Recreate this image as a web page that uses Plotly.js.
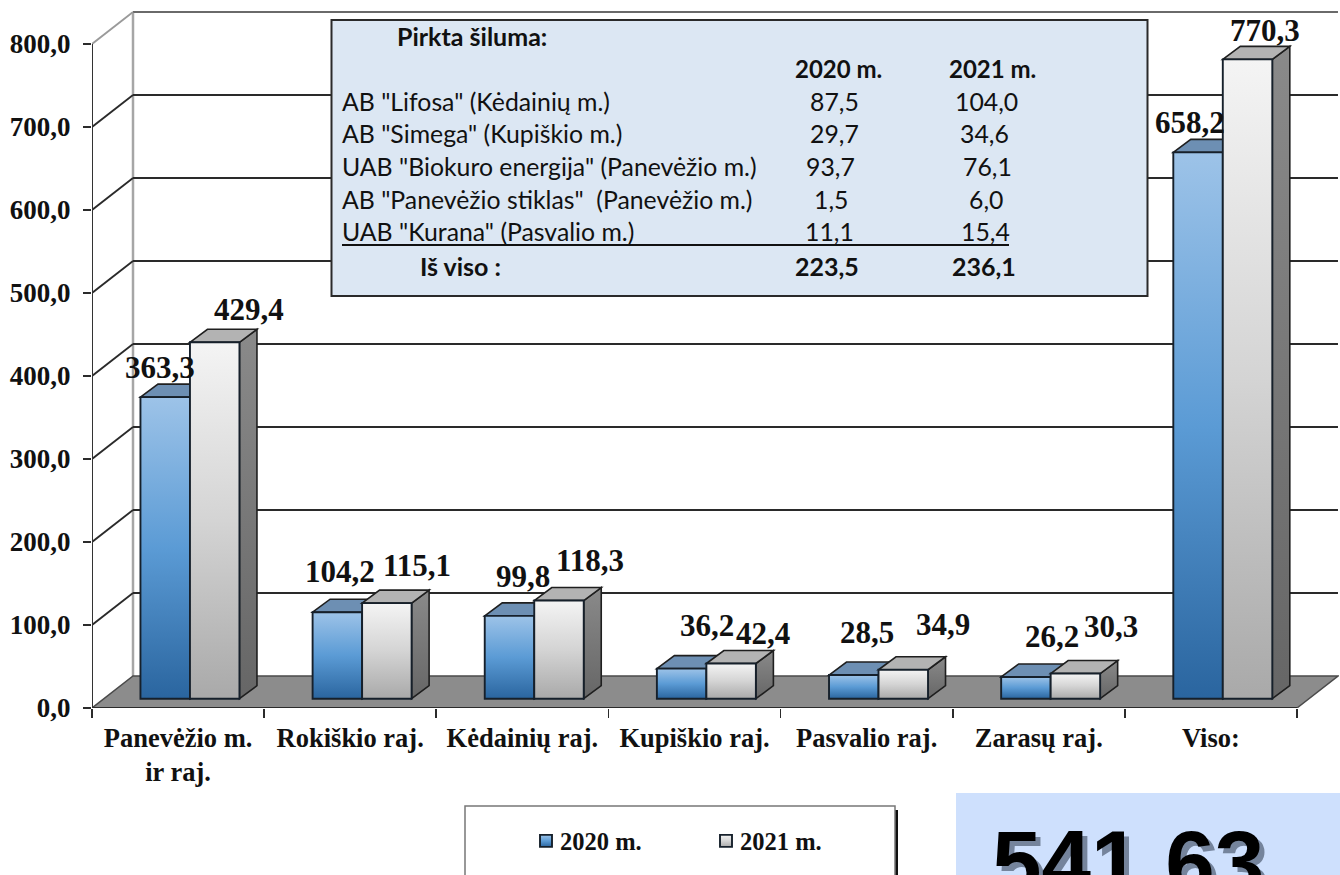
<!DOCTYPE html>
<html><head><meta charset="utf-8">
<script src="https://cdn.plot.ly/plotly-3.0.1.min.js"></script>
<style>html,body{margin:0;padding:0;background:#fff;overflow:hidden}#chart{width:1340px;height:875px}</style>
</head><body><div id="chart"></div>
<script>
const categories = ['Panevėžio m.<br>ir raj.', 'Rokiškio raj.', 'Kėdainių raj.', 'Kupiškio raj.', 'Pasvalio raj.', 'Zarasų raj.', 'Viso:'];
const values2020 = [363.3, 104.2, 99.8, 36.2, 28.5, 26.2, 658.2];
const values2021 = [429.4, 115.1, 118.3, 42.4, 34.9, 30.3, 770.3];
const yTicks = [0, 100, 200, 300, 400, 500, 600, 700, 800];
const seriesNames = ['2020 m.', '2021 m.'];
const tableTitle = 'Pirkta šiluma:';
const tableSources = ['AB "Lifosa" (Kėdainių m.)', 'AB "Simega" (Kupiškio m.)', 'UAB "Biokuro energija" (Panevėžio m.)', 'AB "Panevėžio stiklas"  (Panevėžio m.)', 'UAB "Kurana" (Pasvalio m.)'];
const table2020 = [87.5, 29.7, 93.7, 1.5, 11.1];
const table2021 = [104.0, 34.6, 76.1, 6.0, 15.4];
const tableTotalLabel = 'Iš viso :';
const tableTotal2020 = 223.5;
const tableTotal2021 = 236.1;
const cornerValue = '541,63';

// layout constants (pixels)
const W = 1340, H = 875, L = 92, R = 1, BASEY = 708, PXY = 0.83, PXX = 172.14;
const fmt = v => v.toFixed(1).replace('.', ',');
const wallDX = 41 / PXX, wallDY = 32 / PXY;
const barDX = 17.5 / PXX, barDY = 13 / PXY;
const barBase = 11.2, barW = 49.5 / PXX;
const off1 = 0.2815 - 0.5, off2 = off1 + barW;
const n = categories.length;
const centers = categories.map((_, i) => i + 0.5);
const px = x => (x - L) / (W - L - R);
const py = y => (BASEY - y) / BASEY;

const shapes = [];
const poly = (pts, fill, lineColor, lineW, name) => shapes.push({
  type: 'path', xref: 'x', yref: 'y', layer: 'below', name: name || '',
  path: 'M' + pts.map(p => p[0] + ',' + p[1]).join(' L') + ' Z',
  fillcolor: fill, line: {color: lineColor, width: lineW}
});
const seg = (x0, y0, x1, y1, color, width) => shapes.push({
  type: 'line', xref: 'x', yref: 'y', layer: 'below', x0, y0, x1, y1, line: {color, width}
});
// back wall and gridlines
seg(wallDX, wallDY, wallDX, 800 + wallDY, '#a6a6a6', 2.5);
yTicks.filter(t => t > 0).forEach(t => {
  const c = t === 800 ? '#6a6a6a' : '#2a2a2a';
  seg(wallDX, t + wallDY, n + wallDX, t + wallDY, c, 1.8);
  seg(0, t, wallDX, t + wallDY, t === 800 ? '#9a9a9a' : '#2a2a2a', 1.8);
});
// floor
poly([[0, 0], [n, 0], [n + wallDX, wallDY], [wallDX, wallDY]], '#8c8c8c', '#4a4a4a', 1.5);
seg(0, 0, n, 0, '#2b2b2b', 2.2);
seg(0, 0, 0, 800, '#333333', 2);

// 3D faces of bars (behind the front faces)
const faces = (vals, off, topFill, sideFill, tag) => vals.forEach((v, i) => {
  const x0 = i + 0.5 + off, x1 = x0 + barW, y = barBase + v;
  poly([[x1, barBase], [x1 + barDX, barBase + barDY], [x1 + barDX, y + barDY], [x1, y]], sideFill, '#1f1f1f', 1.6, 'side' + tag);
  poly([[x0, y], [x0 + barDX, y + barDY], [x1 + barDX, y + barDY], [x1, y]], topFill, '#1f1f1f', 1.6, 'top' + tag);
});
faces(values2020, off1, '#6d8fb3', '#5b7896', 'A');
faces(values2021, off2, '#b3b3b3', '#7a7a7a', 'B');

// table box + its underline, legend box, corner box
shapes.push({type: 'rect', xref: 'paper', yref: 'paper', layer: 'above', x0: px(331.5), x1: px(1147.5), y0: py(296), y1: py(20), fillcolor: '#dce7f3', line: {color: '#2a2a2a', width: 2}});
shapes.push({type: 'line', xref: 'paper', yref: 'paper', layer: 'above', x0: px(342), x1: px(1009), y0: py(245), y1: py(245), line: {color: '#111', width: 2}});
shapes.push({type: 'rect', xref: 'paper', yref: 'paper', layer: 'below', x0: px(467), x1: px(898), y0: py(880), y1: py(810), fillcolor: '#111', line: {width: 0}});
shapes.push({type: 'rect', xref: 'paper', yref: 'paper', layer: 'below', x0: px(465), x1: px(895), y0: py(880), y1: py(806), fillcolor: '#fff', line: {color: '#777', width: 1.5}});
shapes.push({type: 'rect', xref: 'paper', yref: 'paper', layer: 'below', x0: px(956), x1: px(1345), y0: py(880), y1: py(793), fillcolor: '#cee0fd', line: {width: 0}});

const ann = [];
const textFont = (size, bold) => ({family: 'Lato, Carlito, sans-serif', size, color: '#111', weight: bold ? 700 : 400});
const tx = (text, x, y, anchor, font) => ann.push({text, xref: 'paper', yref: 'paper', x: px(x), y: py(y), xanchor: anchor, yanchor: 'middle', showarrow: false, font});
tx(tableTitle, 395, 36, 'left', textFont(25, true));
tx('2020 m.', 838, 68, 'center', textFont(24, true));
tx('2021 m.', 992, 68, 'center', textFont(24, true));
const rowY = [101, 134, 167, 199, 232];
const col20 = [834, 834, 831, 831, 829], col21 = [986, 984, 987, 986, 985];
tableSources.forEach((s, i) => {
  tx(s, 340, rowY[i], 'left', textFont(24.8));
  tx(fmt(table2020[i]), col20[i], rowY[i], 'center', textFont(24.8));
  tx(fmt(table2021[i]), col21[i], rowY[i], 'center', textFont(24.8));
});
tx(tableTotalLabel, 418, 266, 'left', textFont(25, true));
tx(fmt(tableTotal2020), 827, 266, 'center', textFont(25, true));
tx(fmt(tableTotal2021), 984, 266, 'center', textFont(25, true));

// data labels: nudges in px from the bar's top centre
const serif = 'Liberation Serif, Times New Roman, serif';
const nudge20 = [[-5, 30], [3, 41], [14, 39], [25, 43], [13, 43], [26, 40], [-8, 30]];
const nudge21 = [[34, 33], [30, 38], [31, 40], [32, 30], [40, 45], [36, 47], [17, 29]];
const addLabels = (vals, off, nudge) => vals.forEach((v, i) => ann.push({
  text: fmt(v), xref: 'x', yref: 'y', x: i + 0.5 + off + barW / 2, y: barBase + v,
  xanchor: 'center', yanchor: 'middle', showarrow: false, xshift: nudge[i][0], yshift: nudge[i][1],
  font: {family: serif, size: 31, color: '#111', weight: 700}
}));
addLabels(values2020, off1, nudge20);
addLabels(values2021, off2, nudge21);
ann.push({text: cornerValue, xref: 'paper', yref: 'paper', x: px(990), y: py(894), xanchor: 'left', yanchor: 'bottom', yshift: -20, showarrow: false,
  font: {family: 'Liberation Sans, Arial, sans-serif', size: 89, weight: 700, color: '#000', shadow: '5px 5px 0 #75849c'}});

const barTrace = (name, vals, off, color) => ({
  type: 'bar', name, x: centers, y: vals, base: barBase, width: barW, offset: off,
  marker: {color, line: {color: '#16202b', width: 1.9}}, hoverinfo: 'skip', cliponaxis: false
});
const data = [
  barTrace(seriesNames[0], values2020, off1, '#5b9bd5'),
  barTrace(seriesNames[1], values2021, off2, '#dedede')
];
const layout = {
  width: W, height: H, margin: {l: L, r: R, t: 0, b: H - BASEY, pad: 0},
  paper_bgcolor: '#fff', plot_bgcolor: 'rgba(0,0,0,0)', barmode: 'overlay', showlegend: true,
  xaxis: {
    range: [0, (W - L - R) / PXX], tickmode: 'array', tickvals: centers, ticktext: categories, ticks: '',
    ticklabelstandoff: 11, showline: false, showgrid: false, zeroline: false, fixedrange: true,
    tickfont: {family: serif, size: 26.5, color: '#111', weight: 700},
    minor: {tickmode: 'array', tickvals: categories.map((_, i) => i).concat([n]), ticks: 'outside', ticklen: 9, tickwidth: 1.6, tickcolor: '#2b2b2b', showgrid: false}
  },
  yaxis: {
    range: [0, BASEY / PXY], tickmode: 'array', tickvals: yTicks, ticktext: yTicks.map(fmt), ticks: 'outside', ticklen: 8,
    tickwidth: 1.6, tickcolor: '#2b2b2b', ticklabelstandoff: 7, showline: false, showgrid: false, zeroline: false, fixedrange: true,
    tickfont: {family: serif, size: 27, color: '#111', weight: 700}
  },
  legend: {
    orientation: 'h', x: px(520), y: py(841), xanchor: 'left', yanchor: 'middle', bgcolor: 'rgba(0,0,0,0)', borderwidth: 0,
    entrywidth: 135, entrywidthmode: 'pixels', itemclick: false, itemdoubleclick: false,
    font: {family: serif, size: 24.5, color: '#111', weight: 700}
  },
  shapes, annotations: ann
};
const gd = document.getElementById('chart');
Plotly.newPlot(gd, data, layout, {displayModeBar: false, staticPlot: true}).then(() => {
  const svg = gd.querySelector('.main-svg');
  const defs = svg.querySelector('defs');
  const NS = 'http://www.w3.org/2000/svg';
  const addGrad = (id, stops) => {
    const g = document.createElementNS(NS, 'linearGradient');
    g.setAttribute('id', id); g.setAttribute('x1', '0'); g.setAttribute('y1', '0'); g.setAttribute('x2', '0'); g.setAttribute('y2', '1');
    stops.forEach(([o, c]) => { const s = document.createElementNS(NS, 'stop'); s.setAttribute('offset', o); s.setAttribute('stop-color', c); g.appendChild(s); });
    defs.appendChild(g);
  };
  addGrad('gBlue', [[0, '#9dc3e8'], [0.5, '#5b9bd5'], [1, '#2a659f']]);
  addGrad('gGrey', [[0, '#f4f4f4'], [0.5, '#d4d4d4'], [1, '#a9a9a9']]);
  addGrad('gSide', [[0, '#8a8a8a'], [1, '#666666']]);
  const traces = gd.querySelectorAll('.barlayer .trace');
  traces[0].querySelectorAll('path').forEach(p => p.style.fill = 'url(#gBlue)');
  traces[1].querySelectorAll('path').forEach(p => p.style.fill = 'url(#gGrey)');
  const lg = gd.querySelectorAll('.legend .traces');
  lg.forEach((t, i) => t.querySelectorAll('.legendpoints path').forEach(p => {
    p.style.fill = i ? 'url(#gGrey)' : 'url(#gBlue)';
    p.setAttribute('transform', (p.getAttribute('transform') || '') + ' translate(6,0)');
  }));
  gd.layout.shapes.forEach((s, i) => {
    if (s.name === 'sideB') {
      const el = gd.querySelector('.shapelayer path[data-index="' + i + '"]');
      if (el) el.style.fill = 'url(#gSide)';
    }
  });
});
</script></body></html>
